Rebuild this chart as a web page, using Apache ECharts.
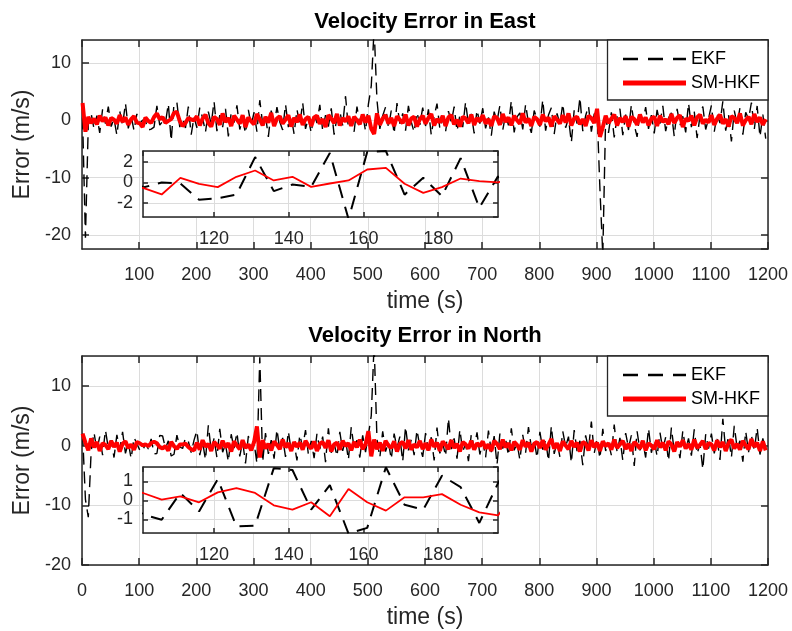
<!DOCTYPE html>
<html><head><meta charset="utf-8">
<script src="https://cdn.jsdelivr.net/npm/echarts@6/dist/echarts.min.js"></script>
<style>html,body{margin:0;padding:0;background:#fff}#c{width:792px;height:631px}</style>
</head><body><div id="c"></div>
<script>
// Samples every 5 s, first sample at t = 1 s
const eastEKF = [
 0.5,-20.5,-0.8,1.2,-1.5,0.8,-2.2,1.9,-0.6,2.4,-1.1,0.3,-2.6,1.6,-0.9,3.0,-1.4,0.7,-1.8,1.1,
 -0.5,0.0,-0.1,-1.7,-1.55,-1.2,2.5,-0.85,-0.2,-0.43,2.9,-3.6,3.0,3.1,-1.2,0.46,-1.35,2.4,-2.5,0.6,
 -1.3,2.2,0.4,-2.1,1.5,-0.7,3.3,-1.9,0.9,-1.2,2.0,-2.8,1.3,-0.4,2.6,-1.6,0.2,-2.3,1.8,-0.9,
 1.4,-2.0,3.5,-0.6,0.8,-2.9,1.7,-1.0,2.3,-0.3,-1.7,2.8,-1.2,0.6,-2.4,1.9,-0.8,3.1,-1.5,0.4,
 -2.2,1.3,-0.5,2.7,-1.8,0.9,-1.1,2.1,-2.5,0.5,1.6,-0.9,4.2,-1.4,0.2,-2.0,2.4,-0.7,1.0,-1.9,
 2.8,6.0,16.0,3.5,-1.5,0.8,2.3,-1.2,1.7,-2.4,3.0,-0.6,1.2,-1.8,2.5,-0.3,-2.1,1.4,-0.8,2.2,
 -1.0,1.9,-2.6,0.7,2.9,-1.5,0.3,-2.0,1.6,-0.4,2.4,-1.9,0.9,-1.2,3.2,-0.8,1.1,-2.3,1.8,-0.6,
 2.1,-1.4,0.5,-2.7,1.5,-0.2,2.6,-1.7,1.0,-0.9,3.4,-2.1,0.6,1.3,-1.6,2.8,-0.5,-2.2,1.7,0.2,
 -1.1,3.6,-1.8,0.9,2.2,-2.4,1.2,-0.7,2.9,-1.3,0.4,-3.9,1.8,-0.6,4.0,-1.9,0.8,2.5,-2.0,1.1,
 1.5,-12.0,-23.5,0.5,-2.2,1.4,-3.0,0.6,2.0,-2.6,1.0,-1.7,2.7,-0.8,-2.9,1.6,-0.4,2.3,-1.5,0.9,
 -2.3,1.8,-0.6,2.5,-1.9,0.4,1.3,-2.8,2.0,-0.9,0.7,-2.1,3.0,-1.2,1.5,-3.1,0.8,2.4,-1.6,0.3,
 2.6,-2.0,1.1,-0.5,3.3,-1.8,0.9,-3.7,1.7,-0.7,2.2,-2.5,1.4,0.2,3.1,-1.6,2.5,-2.9,1.0,-3.2
];
const eastSM = [
 3.0,-2.0,0.6,-0.5,0.3,-0.7,0.8,-0.2,0.5,-0.9,0.4,0.1,-0.6,0.9,-0.3,0.5,-0.8,0.2,0.7,-0.4,
 -0.53,-1.18,0.46,-0.13,-0.46,0.56,1.18,0.2,0.56,-0.43,-0.1,0.2,1.28,1.44,-0.13,-1.02,-0.46,0.39,0.13,0.0,
 0.7,-0.9,0.3,1.0,-0.5,-1.1,0.6,0.2,-0.8,1.2,-0.3,0.4,-1.0,0.8,0.1,-0.6,0.9,-1.2,0.5,-0.2,
 -0.7,1.1,0.2,-0.9,0.6,-0.4,1.3,-1.0,0.3,0.7,-0.6,0.1,0.9,-1.1,0.4,-0.3,1.0,-0.8,0.2,0.6,
 -1.0,0.5,0.8,-0.6,0.2,-1.2,0.9,0.3,-0.5,1.1,-0.9,0.4,-0.2,0.7,-1.0,0.6,0.0,-0.7,1.0,-0.4,
 0.8,-1.5,-2.4,1.2,-0.8,0.3,0.9,-0.6,0.4,-1.0,0.7,0.1,-0.5,1.0,-0.9,0.3,0.6,-1.1,0.2,0.8,
 -0.6,0.4,1.1,-0.9,0.2,-0.4,0.8,-1.0,0.5,0.9,-0.7,0.1,-1.1,0.6,0.3,-0.5,1.0,-0.8,0.4,-0.2,
 0.9,-0.6,0.2,-1.0,0.7,0.4,-0.8,1.1,-0.3,0.5,-0.9,0.8,0.0,-0.6,1.2,-0.4,0.3,-1.0,0.6,0.2,
 -0.8,1.0,-0.2,0.5,-1.1,0.7,0.1,-0.6,0.9,-0.4,1.2,-0.9,0.3,0.6,-0.7,0.2,-1.0,0.8,0.4,-0.5,
 2.0,-2.9,-1.2,0.8,-0.5,0.3,1.0,-0.9,0.4,-0.3,0.7,-1.1,0.6,0.2,-0.8,1.0,-0.4,0.5,-0.9,0.3,
 0.6,-1.0,0.8,-0.3,0.2,-0.7,1.1,-0.5,0.4,0.9,-1.2,0.3,-0.1,0.8,-0.9,0.5,1.0,-0.6,0.1,-0.4,
 0.9,-0.8,0.3,1.0,-0.6,0.2,-1.1,0.7,0.4,-0.5,1.2,-0.9,0.0,0.6,-0.7,1.1,-0.3,0.5,-0.8,0.2
];
const northEKF = [
 2.0,-9.0,-12.0,-1.0,2.2,-0.8,1.5,-1.6,2.6,-0.4,0.9,-2.0,1.8,-0.7,2.3,-1.3,0.5,-2.2,1.4,0.3,
 -0.75,-1.02,0.39,-0.58,1.12,-1.37,-1.33,1.7,1.6,-0.49,0.8,-1.75,-1.45,1.75,-0.23,-0.49,1.3,0.7,-1.19,0.91,
 2.5,-1.6,0.6,-2.4,3.4,-0.9,1.2,-2.0,2.8,-1.1,0.2,-2.7,1.9,-0.5,2.2,-1.8,0.7,-3.0,1.6,-0.6,
 0.5,-3.0,14.8,-2.8,2.1,-1.4,0.9,-2.2,2.7,-0.7,1.3,-1.9,2.4,-1.0,0.5,-2.5,1.8,-0.3,2.6,-1.5,
 0.8,-2.1,2.0,-0.6,1.5,-2.8,2.9,-1.2,0.4,-1.8,2.3,-0.9,1.1,-2.4,3.1,-0.5,0.9,-2.0,1.7,-1.1,
 1.8,5.0,17.0,1.0,-2.0,2.4,-1.0,0.6,-2.3,2.0,-0.4,1.5,-2.7,3.2,-0.8,1.0,-1.6,2.6,-0.2,-1.9,
 2.1,-0.9,1.4,-2.5,3.0,-1.3,0.5,-1.8,4.6,-0.6,1.2,-2.2,2.7,-1.0,0.3,-2.6,1.9,-0.4,2.2,-1.5,
 0.7,-2.0,2.5,-1.1,1.6,-3.2,2.0,-0.5,1.1,-1.7,2.9,-0.8,0.4,-2.4,1.8,-1.2,3.1,-0.3,0.9,-2.1,
 2.3,-0.7,1.0,-2.6,3.3,-1.4,0.6,-1.9,2.4,-0.2,1.5,-2.9,2.6,-1.0,0.8,-3.3,1.7,-0.6,4.0,-1.3,
 1.1,-2.2,2.8,-0.9,0.4,-1.6,3.5,-1.1,1.3,-2.5,2.1,-0.4,1.7,-3.4,2.4,-0.8,0.6,-2.0,2.9,-1.2,
 0.9,-1.8,2.2,-0.7,1.4,-2.6,3.0,-1.0,0.5,-2.1,2.5,-0.6,1.2,-1.7,2.7,-1.4,0.3,-4.0,1.9,-0.5,
 2.0,-1.3,1.1,-2.4,4.5,-0.9,1.6,-2.0,3.3,-0.4,0.8,-2.7,2.4,-1.1,1.7,-0.8,3.0,-1.5,1.2,-1.0
];
const northSM = [
 2.0,0.5,-0.8,1.2,-0.3,0.6,-0.9,0.4,0.1,-0.6,0.8,-0.2,0.5,-1.0,0.3,0.7,-0.4,0.2,-0.7,0.6,
 0.39,0.04,0.21,-0.1,0.42,0.65,0.39,-0.26,-0.49,-0.1,-0.84,0.6,-0.1,-0.54,0.16,0.16,0.33,-0.23,-0.63,-0.79,
 0.5,-0.7,0.9,-0.2,0.3,-0.9,0.6,0.1,-0.5,0.8,-0.3,0.4,-1.0,0.7,0.0,-0.6,0.9,-0.4,0.2,-0.8,
 0.6,3.2,-2.0,0.9,-0.5,0.3,-0.8,0.7,0.1,-0.6,1.0,-0.3,0.4,-0.9,0.6,-0.2,0.5,-0.7,0.8,0.0,
 -0.5,0.7,-0.9,0.3,0.6,-0.4,0.9,-1.0,0.2,0.5,-0.7,0.8,-0.1,0.4,-0.8,0.6,-0.3,1.0,-0.6,0.2,
 2.4,-1.8,1.0,-0.6,0.5,-0.9,0.8,0.0,-0.4,0.7,-1.0,0.3,0.6,-0.5,0.9,-0.7,0.2,-0.3,0.8,-0.6,
 0.4,-0.8,1.0,-0.2,0.5,-0.9,0.7,0.1,-0.6,0.9,-0.4,0.3,-1.0,0.6,0.2,-0.5,0.8,-0.7,0.4,-0.1,
 0.7,-0.5,0.2,-0.9,0.8,0.3,-0.6,1.0,-0.3,0.4,-0.8,0.6,0.1,-0.7,0.9,-0.2,0.5,-1.0,0.3,0.6,
 -0.4,0.9,-0.7,0.2,1.1,-0.5,0.4,-0.9,0.7,0.0,-0.6,0.8,-0.2,0.5,-1.0,0.6,0.3,-0.8,0.9,-0.3,
 0.5,-0.9,0.7,-0.1,0.4,-0.7,1.0,-0.4,0.2,0.8,-0.6,0.3,-0.9,0.6,0.1,-0.5,0.8,-0.8,0.4,0.0,
 -0.6,0.9,-0.3,0.5,-0.8,0.7,0.2,-1.0,0.6,-0.2,0.9,-0.5,0.3,-0.7,1.0,-0.4,0.1,0.8,-0.6,0.4,
 0.2,-0.8,0.9,-0.3,0.6,-0.9,0.4,1.0,-0.5,0.3,-0.7,0.8,0.0,-0.6,1.1,-0.2,0.5,-0.9,0.7,-0.8
];
const titles = ['Velocity Error in East', 'Velocity Error in North'];
const seriesNames = ['EKF', 'SM-HKF'];
const xName = 'time (s)';
const yName = 'Error (m/s)';

const times = eastEKF.map((_, i) => 1 + 5 * i);
const pairs = arr => arr.map((v, i) => [times[i], v]);

const FONT = "'Liberation Sans', Arial, Helvetica, sans-serif";
const AX = '#262626';
const GRIDC = '#dcdcdc';
const plain = v => String(v);

const mainTop = [40, 356];
const insetTop = [151, 467];

const grids = [];
const xAxes = [];
const yAxes = [];
const series = [];

function axLine() { return { show: true, onZero: false, lineStyle: { color: AX, width: 1.5 } }; }
function axTick(len) { return { show: true, inside: true, length: len, lineStyle: { color: AX, width: 1.5 } }; }
function lbl(extra) { return Object.assign({ color: AX, fontSize: 18, fontFamily: FONT, formatter: plain }, extra); }

const yRanges = [{ min: -22.45, max: 14, split: 4 }, { min: -20, max: 15, split: 4 }];
const insetY = [{ min: -3.4, max: 3.1, split: 3 }, { min: -1.72, max: 1.76, split: 3 }];
const dataSets = [[eastEKF, eastSM], [northEKF, northSM]];

for (let p = 0; p < 2; p++) {
  const gMain = grids.length;
  grids.push({ left: 82, top: mainTop[p], width: 686, height: 209, show: false, z: 0 });
  const gIn = grids.length;
  grids.push({ left: 143, top: insetTop[p], width: 355, height: 66, show: true, backgroundColor: '#fff', borderWidth: 0, z: 10 });

  const xb = xAxes.length;
  xAxes.push({ gridIndex: gMain, type: 'value', min: 0, max: 1200, interval: 100, position: 'bottom',
    axisLine: axLine(), axisTick: axTick(7),
    axisLabel: lbl({ margin: 17, showMinLabel: p === 1 }),
    splitLine: { show: true, lineStyle: { color: GRIDC, width: 1 } },
    name: xName, nameLocation: 'middle', nameGap: 41,
    nameTextStyle: { color: AX, fontSize: 23, fontFamily: FONT } });
  xAxes.push({ gridIndex: gMain, type: 'value', min: 0, max: 1200, interval: 100, position: 'top',
    axisLine: axLine(), axisTick: axTick(7), axisLabel: { show: false }, splitLine: { show: false } });
  const yb = yAxes.length;
  const yr = yRanges[p];
  yAxes.push({ gridIndex: gMain, type: 'value', min: yr.min, max: yr.max, splitNumber: yr.split, position: 'left',
    axisLine: axLine(), axisTick: axTick(7),
    axisLabel: lbl({ margin: 11, showMinLabel: p === 1, showMaxLabel: false }),
    splitLine: { show: true, lineStyle: { color: GRIDC, width: 1 } },
    name: yName, nameLocation: 'middle', nameGap: 48,
    nameTextStyle: { color: AX, fontSize: 23, fontFamily: FONT } });
  yAxes.push({ gridIndex: gMain, type: 'value', min: yr.min, max: yr.max, splitNumber: yr.split, position: 'right',
    axisLine: axLine(), axisTick: axTick(7), axisLabel: { show: false }, splitLine: { show: false } });

  const xi = xAxes.length;
  xAxes.push({ gridIndex: gIn, type: 'value', min: 101, max: 196, splitNumber: 4, position: 'bottom', z: 11,
    axisLine: axLine(), axisTick: axTick(5),
    axisLabel: lbl({ margin: 13, showMinLabel: false, showMaxLabel: false }),
    splitLine: { show: true, lineStyle: { color: GRIDC, width: 1 } } });
  xAxes.push({ gridIndex: gIn, type: 'value', min: 101, max: 196, splitNumber: 4, position: 'top', z: 11,
    axisLine: axLine(), axisTick: axTick(5), axisLabel: { show: false }, splitLine: { show: false } });
  const yi = yAxes.length;
  const iy = insetY[p];
  yAxes.push({ gridIndex: gIn, type: 'value', min: iy.min, max: iy.max, splitNumber: iy.split, position: 'left', z: 11,
    axisLine: axLine(), axisTick: axTick(5),
    axisLabel: lbl({ margin: 10, showMinLabel: false, showMaxLabel: false }),
    splitLine: { show: true, lineStyle: { color: GRIDC, width: 1 } } });
  yAxes.push({ gridIndex: gIn, type: 'value', min: iy.min, max: iy.max, splitNumber: iy.split, position: 'right', z: 11,
    axisLine: axLine(), axisTick: axTick(5), axisLabel: { show: false }, splitLine: { show: false } });

  const [ekf, sm] = dataSets[p];
  series.push({ name: seriesNames[0], type: 'line', xAxisIndex: xb, yAxisIndex: yb, data: pairs(ekf),
    symbol: 'none', silent: true, z: 2, itemStyle: { color: '#000' },
    lineStyle: { color: '#000', width: 1.4, type: [12, 7] } });
  series.push({ name: seriesNames[1], type: 'line', xAxisIndex: xb, yAxisIndex: yb, data: pairs(sm),
    symbol: 'none', silent: true, z: 3, itemStyle: { color: '#ff0000' },
    lineStyle: { color: '#ff0000', width: 4 } });
  series.push({ name: seriesNames[0] + ' ', type: 'line', xAxisIndex: xi, yAxisIndex: yi, data: pairs(ekf),
    symbol: 'none', silent: true, z: 12, itemStyle: { color: '#000' },
    lineStyle: { color: '#000', width: 2, type: [14, 9] } });
  series.push({ name: seriesNames[1] + ' ', type: 'line', xAxisIndex: xi, yAxisIndex: yi, data: pairs(sm),
    symbol: 'none', silent: true, z: 13, itemStyle: { color: '#ff0000' },
    lineStyle: { color: '#ff0000', width: 1.8 } });
}

const legends = mainTop.map(t => ({
  top: t, right: 24, orient: 'vertical', selectedMode: false, z: 20,
  itemWidth: 63, itemHeight: 14, itemGap: 6, padding: [10, 8, 8, 13],
  borderColor: AX, borderWidth: 1.3, backgroundColor: '#fff',
  textStyle: { color: '#000', fontSize: 18, fontFamily: FONT },
  data: [
    { name: seriesNames[0], itemStyle: { opacity: 0 }, lineStyle: { color: '#000', width: 2.5, type: [15, 10] } },
    { name: seriesNames[1], itemStyle: { opacity: 0 }, lineStyle: { color: '#ff0000', width: 5 } }
  ]
}));

const option = {
  animation: false,
  backgroundColor: '#fff',
  title: [
    { text: titles[0], left: 425, textAlign: 'center', top: 11, padding: 0,
      textStyle: { fontSize: 22, fontWeight: 'bold', color: '#000', fontFamily: FONT } },
    { text: titles[1], left: 425, textAlign: 'center', top: 325, padding: 0,
      textStyle: { fontSize: 22, fontWeight: 'bold', color: '#000', fontFamily: FONT } }
  ],
  legend: legends,
  grid: grids,
  xAxis: xAxes,
  yAxis: yAxes,
  series: series
};
const chart = echarts.init(document.getElementById('c'), null, { renderer: 'canvas' });
chart.setOption(option);
</script></body></html>
